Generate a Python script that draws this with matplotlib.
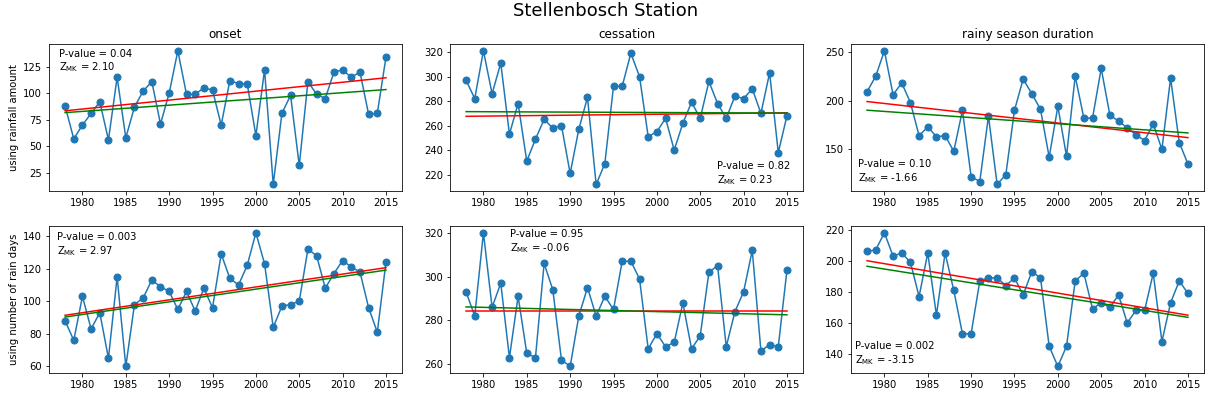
import matplotlib
matplotlib.use('Agg')
import matplotlib.pyplot as plt
from matplotlib.ticker import MultipleLocator
import numpy as np

years = np.arange(1978, 2016)

# rows: rainfall amount, number of rain days ; cols: onset, cessation, duration
onset_amount = [88, 57, 70, 81, 92, 56, 115, 58, 87, 102, 111, 71, 100, 140, 99, 99, 105, 103, 70, 112,
                109, 109, 60, 122, 14, 81, 98, 32, 111, 99, 95, 120, 122, 115, 120, 80, 81, 134]
cessation_amount = [297, 282, 321, 286, 311, 253, 278, 231, 249, 265, 258, 260, 221, 257, 283, 212, 229, 292, 292, 319,
                    300, 251, 255, 266, 240, 262, 279, 266, 296, 278, 266, 284, 282, 290, 270, 303, 238, 268]
duration_amount = [209, 225, 251, 206, 218, 198, 164, 173, 163, 164, 148, 190, 122, 117, 184, 114, 124, 190, 222, 207,
                   191, 142, 194, 143, 225, 182, 182, 233, 185, 179, 172, 165, 159, 176, 150, 223, 157, 135]
onset_days = [88, 76, 103, 83, 93, 65, 115, 60, 98, 102, 113, 109, 106, 95, 106, 94, 108, 96, 129, 114,
              110, 122, 142, 123, 84, 97, 98, 100, 132, 128, 108, 117, 125, 121, 118, 96, 81, 124]
cessation_days = [293, 282, 320, 286, 297, 263, 291, 265, 263, 306, 294, 262, 259, 282, 295, 282, 291, 285, 307, 307,
                  299, 267, 274, 268, 270, 288, 267, 273, 302, 305, 268, 284, 293, 312, 266, 269, 268, 303]
duration_days = [206, 207, 218, 203, 205, 199, 177, 205, 165, 205, 181, 153, 153, 187, 189, 189, 184, 189, 178, 193,
                 189, 145, 132, 145, 187, 192, 169, 173, 170, 178, 160, 168, 168, 192, 148, 173, 187, 179]

titles = ['onset', 'cessation', 'rainy season duration']
ylabels = ['using rainfall amount', 'using number of rain days']
p_values = ['0.04', '0.82', '0.10', '0.003', '0.95', '0.002']
z_mk = ['2.10', '0.23', '-1.66', '2.97', '-0.06', '-3.15']

series = [onset_amount, cessation_amount, duration_amount,
          onset_days, cessation_days, duration_days]

# text placement (x, y, va) in axes coords, and y tick step per panel
text_pos = [(0.028, 0.97, 'top'), (0.755, 0.03, 'bottom'), (0.02, 0.04, 'bottom'),
            (0.023, 0.96, 'top'), (0.17, 0.98, 'top'), (0.012, 0.04, 'bottom')]
ystep = [25, 20, 50, 20, 20, 20]


def sen_slope(x, y):
    slopes = []
    for i in range(len(x)):
        for j in range(i + 1, len(x)):
            slopes.append((y[j] - y[i]) / (x[j] - x[i]))
    s = np.median(slopes)
    b = np.median(y) - s * np.median(x)
    return s, b


fig, axes = plt.subplots(2, 3, figsize=(1211 / 72, 394 / 72), dpi=72)
fig.subplots_adjust(left=0.0405, right=0.9942, top=0.888, bottom=0.053,
                    wspace=0.136, hspace=0.238)
fig.suptitle('Stellenbosch Station', fontsize=18, y=0.995)

for k, ax in enumerate(axes.flat):
    y = np.array(series[k], dtype=float)
    ax.plot(years, y, 'o-', color='#1f77b4', markersize=7)

    # Sen's slope (red) and linear regression (green)
    s, b = sen_slope(years, y)
    ax.plot(years, s * years + b, color='red')
    m, c = np.polyfit(years, y, 1)
    ax.plot(years, m * years + c, color='green')

    tx, ty, va = text_pos[k]
    ax.text(tx, ty, 'P-value = ' + p_values[k] + '\nZ$_{\\mathrm{MK}}$ = ' + z_mk[k],
            transform=ax.transAxes, va=va, ha='left', fontsize=10)

    ax.xaxis.set_major_locator(MultipleLocator(5))
    ax.yaxis.set_major_locator(MultipleLocator(ystep[k]))

for j in range(3):
    axes[0, j].set_title(titles[j], fontsize=12)
for i in range(2):
    axes[i, 0].set_ylabel(ylabels[i])

fig.savefig('out.png', dpi=72, facecolor='white')
